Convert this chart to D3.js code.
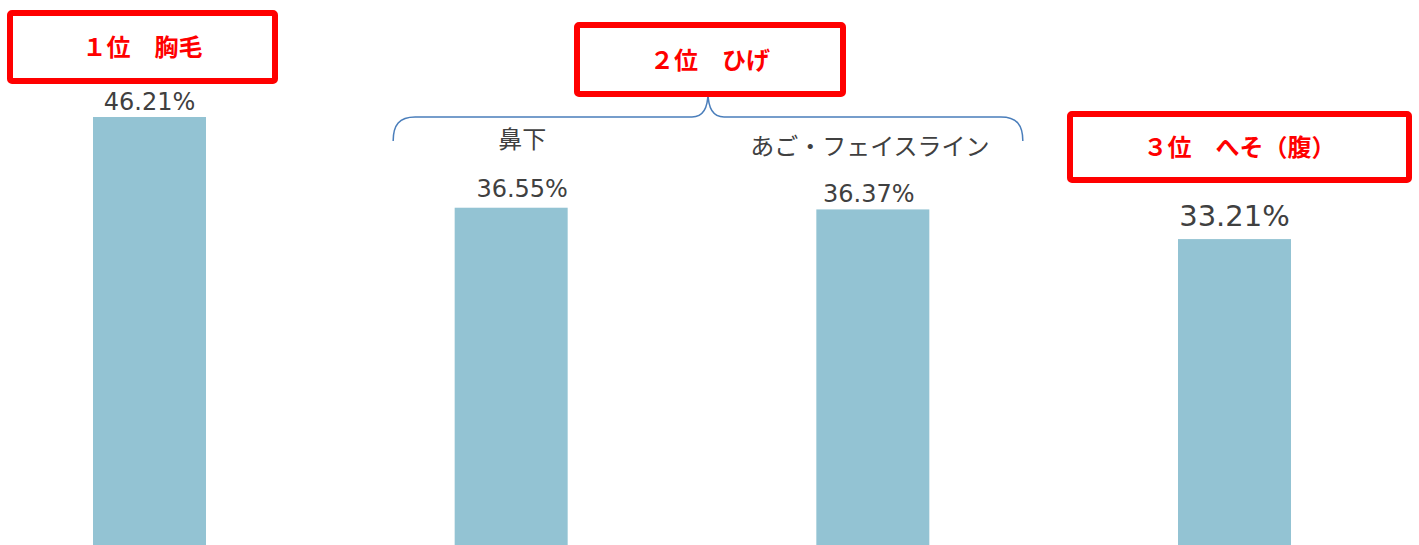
<!DOCTYPE html>
<html>
<head>
<meta charset="utf-8">
<script src="https://cdn.jsdelivr.net/npm/d3@7"></script>
<style>
  html, body { margin: 0; padding: 0; background: #fff; }
  svg { display: block; }
</style>
</head>
<body>
<svg id="chart" width="1419" height="545"></svg>
<script>
// data
const categories = ['胸毛', '鼻下', 'あご・フェイスライン', 'へそ（腹）'];
const values = [46.21, 36.55, 36.37, 33.21];
const valueLabels = ['46.21%', '36.55%', '36.37%', '33.21%'];
const subLabels = ['', '鼻下', 'あご・フェイスライン', ''];
const rankLabels = ['１位　胸毛', '２位　ひげ', '３位　へそ（腹）'];

// layout tweaks (label nudges)
const labelDx = [0, 11, -4, 0];
const labelGap = [7, 11, 7, 13];
const labelSize = [24, 24, 24, 29];

const W = 1419, H = 545;
const svg = d3.select('#chart');

const x = d3.scalePoint().domain(categories).range([149.5, 1234.5]);
const y = d3.scaleLinear().domain([0, 50]).range([551, 81.4]);
const barW = 113;

const font = '"DejaVu Sans", Verdana, sans-serif';
const jpFont = '"Noto Sans CJK JP", "Noto Sans", sans-serif';

// bars
svg.append('g').selectAll('rect')
  .data(categories)
  .join('rect')
  .attr('x', d => x(d) - barW / 2)
  .attr('y', (d, i) => y(values[i]))
  .attr('width', barW)
  .attr('height', (d, i) => y(0) - y(values[i]))
  .attr('fill', '#93c3d3');

// value labels
svg.append('g').selectAll('text')
  .data(categories)
  .join('text')
  .attr('x', (d, i) => x(d) + labelDx[i])
  .attr('y', (d, i) => y(values[i]) - labelGap[i])
  .attr('text-anchor', 'middle')
  .attr('font-family', font)
  .attr('font-size', (d, i) => labelSize[i])
  .attr('fill', '#404040')
  .text((d, i) => valueLabels[i]);

// sub labels for the "ひげ" group
svg.append('text')
  .attr('x', x(categories[1]) + 11).attr('y', 148)
  .attr('text-anchor', 'middle')
  .attr('font-family', jpFont).attr('font-size', 24)
  .attr('fill', '#404040')
  .text(subLabels[1]);
svg.append('text')
  .attr('x', x(categories[2]) - 3).attr('y', 155)
  .attr('text-anchor', 'middle')
  .attr('font-family', jpFont).attr('font-size', 24)
  .attr('fill', '#404040')
  .text(subLabels[2]);

// brace over the two beard bars
const bl = x(categories[1]) - 118, br = x(categories[2]) + 150;
const bm = (bl + br) / 2, by = 117, bTop = 92, bBot = 141;
svg.append('path')
  .attr('d', `M${bl},${bBot} C${bl},${by + 8} ${bl + 6},${by} ${bl + 22},${by}
    L${bm - 16},${by} C${bm - 5},${by} ${bm},${by - 8} ${bm},${bTop}
    C${bm},${by - 8} ${bm + 5},${by} ${bm + 16},${by}
    L${br - 22},${by} C${br - 6},${by} ${br},${by + 8} ${br},${bBot}`)
  .attr('fill', 'none')
  .attr('stroke', '#4a7ebb')
  .attr('stroke-width', 1.5);

// rank boxes
const boxes = [
  { x: 10, y: 13, w: 265, h: 68 },
  { x: 577, y: 25, w: 266, h: 69 },
  { x: 1070, y: 114, w: 339, h: 66 }
];
const bg = svg.append('g').selectAll('g')
  .data(boxes)
  .join('g');
bg.append('rect')
  .attr('x', d => d.x).attr('y', d => d.y)
  .attr('width', d => d.w).attr('height', d => d.h)
  .attr('rx', 2)
  .attr('fill', '#fff')
  .attr('stroke', '#ff0000')
  .attr('stroke-width', 6);
bg.append('text')
  .attr('x', d => d.x + d.w / 2)
  .attr('y', d => d.y + d.h / 2 + 9)
  .attr('text-anchor', 'middle')
  .attr('font-family', jpFont)
  .attr('font-weight', 'bold')
  .attr('font-size', 24)
  .attr('fill', '#ff0000')
  .text((d, i) => rankLabels[i]);
</script>
</body>
</html>
